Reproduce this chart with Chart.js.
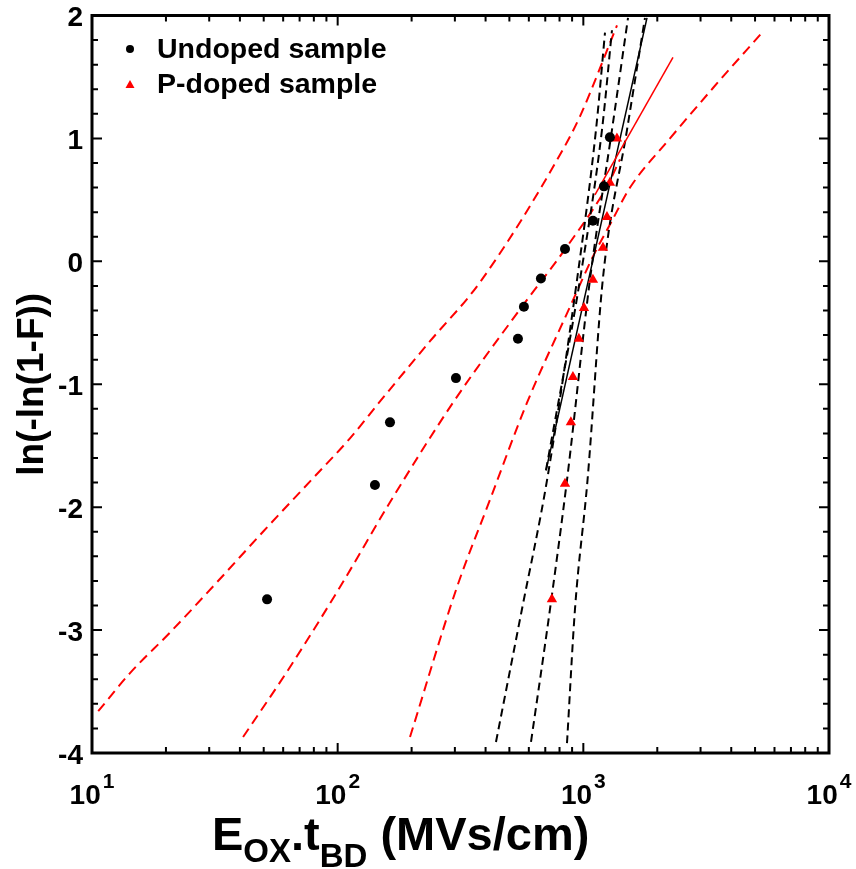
<!DOCTYPE html>
<html lang="en">
<head>
  <meta charset="UTF-8">
  <title>Weibull plot</title>
  <style>
    html, body { margin: 0; padding: 0; background: #fff; }
  </style>
</head>
<body>
  <canvas id="myChart" width="856" height="869"></canvas>

  <script src="https://cdn.jsdelivr.net/npm/chart.js"></script>
  <script>
    // measured points (x = E_ox * t_BD, y = ln(-ln(1-F)))
    const undopedX = [51.6, 141.8, 163.3, 303, 541.8, 573, 672, 842, 1094, 1213, 1283];
    const undopedY = [-2.75, -1.82, -1.31, -0.95, -0.63, -0.37, -0.14, 0.10, 0.33, 0.61, 1.01];
    const pdopedX = [745, 842, 890, 907, 959, 1006, 1094, 1202, 1248, 1283, 1370];
    const pdopedY = [-2.75, -1.81, -1.31, -0.94, -0.63, -0.38, -0.15, 0.11, 0.36, 0.64, 1.00];

    // red dashed curves
    const redUpperX = [10.6, 14.28, 20.77, 32.28, 49.67, 77.2, 112.2, 148.7, 237.6, 379.6, 826.4, 969.2, 1371];
    const redUpperY = [-3.66, -3.35, -3.02, -2.61, -2.20, -1.79, -1.44, -1.14, -0.65, -0.17, 0.91, 1.18, 1.92];
    const redMidX = [41.2, 64, 102.2, 163.3, 294.7, 552.3, 858, 1248, 1410];
    const redMidY = [-3.87, -3.30, -2.65, -1.96, -1.15, -0.39, 0.12, 0.61, 0.83];
    const redLowerX = [197, 306, 416.9, 589.9, 882.5, 1095, 1300, 1549, 2253, 3371, 5336];
    const redLowerY = [-3.87, -2.65, -1.94, -1.15, -0.37, 0.04, 0.32, 0.60, 1.00, 1.41, 1.86];
    // red solid line
    const redSolidX = [1115, 2317];
    const redSolidY = [0.54, 1.66];

    // black solid line and black dashed curves
    const blackSolidX = [704.7, 1816];
    const blackSolidY = [-1.70, 1.98];
    const blackDash1X = [441, 562.6, 711.6, 942.6, 1126, 1225];
    const blackDash1Y = [-3.91, -2.83, -1.78, -0.15, 1.07, 1.86];
    const blackDash4X = [704.7, 969, 1191, 1308];
    const blackDash4Y = [-1.70, -0.15, 1.07, 1.88];
    const blackDash2X = [612.4, 731.6, 858, 1064, 1308, 1520];
    const blackDash2Y = [-3.91, -2.83, -1.78, -0.15, 1.07, 1.98];
    const blackDash3X = [858, 924.7, 1040, 1200, 1506, 1782];
    const blackDash3Y = [-3.92, -2.83, -1.78, -0.15, 1.07, 1.98];

    // axis ticks
    const xMajor = [10, 100, 1000, 10000];
    const xMinorMult = [2, 3, 4, 5, 6, 7, 8, 9];
    const yMajor = [-4, -3, -2, -1, 0, 1, 2];
    const yMinorStep = 0.2;

    const FONT = '"Liberation Sans", Arial, sans-serif';

    function pts(xs, ys) {
      return xs.map((x, i) => ({ x: x, y: ys[i] }));
    }

    function curve(xs, ys, color, dash, width) {
      return {
        type: 'line',
        data: pts(xs, ys),
        borderColor: color,
        borderWidth: width,
        borderDash: dash,
        pointRadius: 0,
        fill: false,
        cubicInterpolationMode: 'monotone'
      };
    }

    // frame, inward ticks, tick labels, titles, legend
    const decor = {
      id: 'decor',
      afterDatasetsDraw(chart) {
        const ctx = chart.ctx;
        const a = chart.chartArea;
        const xs = chart.scales.x;
        const ys = chart.scales.y;
        ctx.save();
        ctx.strokeStyle = '#000';
        ctx.lineWidth = 2;
        ctx.beginPath();
        // x ticks (bottom and top)
        xMajor.forEach((d, k) => {
          const px = xs.getPixelForValue(d);
          ctx.moveTo(px, a.bottom); ctx.lineTo(px, a.bottom - 10);
          ctx.moveTo(px, a.top); ctx.lineTo(px, a.top + 10);
          if (k < xMajor.length - 1) {
            xMinorMult.forEach(m => {
              const p = xs.getPixelForValue(d * m);
              ctx.moveTo(p, a.bottom); ctx.lineTo(p, a.bottom - 6);
              ctx.moveTo(p, a.top); ctx.lineTo(p, a.top + 6);
            });
          }
        });
        // y ticks (left and right)
        for (let v = yMajor[0]; v <= yMajor[yMajor.length - 1] + 1e-9; v += yMinorStep) {
          const py = ys.getPixelForValue(v);
          const major = Math.abs(v - Math.round(v)) < 1e-6;
          const len = major ? 10 : 6;
          ctx.moveTo(a.left, py); ctx.lineTo(a.left + len, py);
          ctx.moveTo(a.right, py); ctx.lineTo(a.right - len, py);
        }
        ctx.stroke();
        ctx.lineWidth = 3;
        ctx.strokeRect(a.left, a.top, a.right - a.left, a.bottom - a.top);

        // y tick labels
        ctx.fillStyle = '#000';
        ctx.font = 'bold 28px ' + FONT;
        ctx.textAlign = 'right';
        ctx.textBaseline = 'middle';
        yMajor.forEach(v => {
          ctx.fillText(String(v), a.left - 9, ys.getPixelForValue(v) + 3);
        });

        // x tick labels: 10 with superscript exponent
        ctx.textBaseline = 'alphabetic';
        ctx.textAlign = 'left';
        xMajor.forEach(d => {
          const px = xs.getPixelForValue(d);
          const exp = String(Math.round(Math.log10(d)));
          ctx.font = 'bold 28px ' + FONT;
          const w1 = ctx.measureText('10').width;
          ctx.font = 'bold 21px ' + FONT;
          const w2 = ctx.measureText(exp).width;
          const x0 = px - (w1 + 2 + w2) / 2;
          ctx.font = 'bold 28px ' + FONT;
          ctx.fillText('10', x0, 804);
          ctx.font = 'bold 21px ' + FONT;
          ctx.fillText(exp, x0 + w1 + 2, 788);
        });

        // x axis title with subscripts
        const big = 'bold 47px ' + FONT;
        const sub = 'bold 33px ' + FONT;
        const parts = [
          { t: 'E', f: big, dy: 0 },
          { t: 'OX', f: sub, dy: 12 },
          { t: '.t', f: big, dy: 0 },
          { t: 'BD', f: sub, dy: 17 },
          { t: ' (MVs/cm)', f: big, dy: 0 }
        ];
        let tx = 212;
        parts.forEach(p => {
          ctx.font = p.f;
          ctx.fillText(p.t, tx, 850 + p.dy);
          tx += ctx.measureText(p.t).width;
        });

        // y axis title
        ctx.save();
        ctx.translate(43, (a.top + a.bottom) / 2);
        ctx.rotate(-Math.PI / 2);
        ctx.textAlign = 'center';
        ctx.font = 'bold 37px ' + FONT;
        ctx.fillText('ln(-ln(1-F))', 0, 0);
        ctx.restore();

        // legend
        ctx.font = 'bold 28.5px ' + FONT;
        ctx.textAlign = 'left';
        ctx.fillText('Undoped sample', 157, 58);
        ctx.fillText('P-doped sample', 157, 93);
        ctx.fillStyle = '#000';
        ctx.beginPath();
        ctx.arc(130, 49, 4, 0, Math.PI * 2);
        ctx.fill();
        ctx.fillStyle = '#ff0000';
        ctx.beginPath();
        ctx.moveTo(130, 80); ctx.lineTo(134.5, 88); ctx.lineTo(125.5, 88);
        ctx.closePath();
        ctx.fill();
        ctx.restore();
      }
    };

    const ctx = document.getElementById('myChart');
    const myChart = new Chart(ctx, {
      type: 'scatter',
      data: {
        datasets: [
          {
            label: 'Undoped sample',
            data: pts(undopedX, undopedY),
            pointStyle: 'circle',
            pointRadius: 5,
            backgroundColor: '#000',
            borderColor: '#000',
            borderWidth: 0
          },
          {
            label: 'P-doped sample',
            data: pts(pdopedX, pdopedY),
            pointStyle: 'triangle',
            pointRadius: 6,
            backgroundColor: '#ff0000',
            borderColor: '#ff0000',
            borderWidth: 0
          },
          curve(redSolidX, redSolidY, '#ff0000', [], 1.5),
          curve(blackSolidX, blackSolidY, '#000', [], 1.5),
          curve(blackDash1X, blackDash1Y, '#000', [8, 5], 2),
          curve(blackDash4X, blackDash4Y, '#000', [8, 5], 2),
          curve(blackDash2X, blackDash2Y, '#000', [8, 5], 2),
          curve(blackDash3X, blackDash3Y, '#000', [8, 5], 2),
          curve(redUpperX, redUpperY, '#ff0000', [10, 6], 2),
          curve(redMidX, redMidY, '#ff0000', [10, 6], 2),
          curve(redLowerX, redLowerY, '#ff0000', [10, 6], 2)
        ]
      },
      options: {
        responsive: false,
        animation: false,
        layout: { padding: { top: 15.5, right: 27, left: 0, bottom: 0 } },
        plugins: {
          legend: { display: false },
          tooltip: { enabled: false }
        },
        scales: {
          x: {
            type: 'logarithmic',
            min: 10,
            max: 10000,
            ticks: { display: false },
            grid: { display: false },
            border: { display: false },
            afterFit(s) { s.height = 116; }
          },
          y: {
            min: -4,
            max: 2,
            ticks: { display: false },
            grid: { display: false },
            border: { display: false },
            afterFit(s) { s.width = 92; }
          }
        }
      },
      plugins: [decor]
    });
  </script>
</body>
</html>
